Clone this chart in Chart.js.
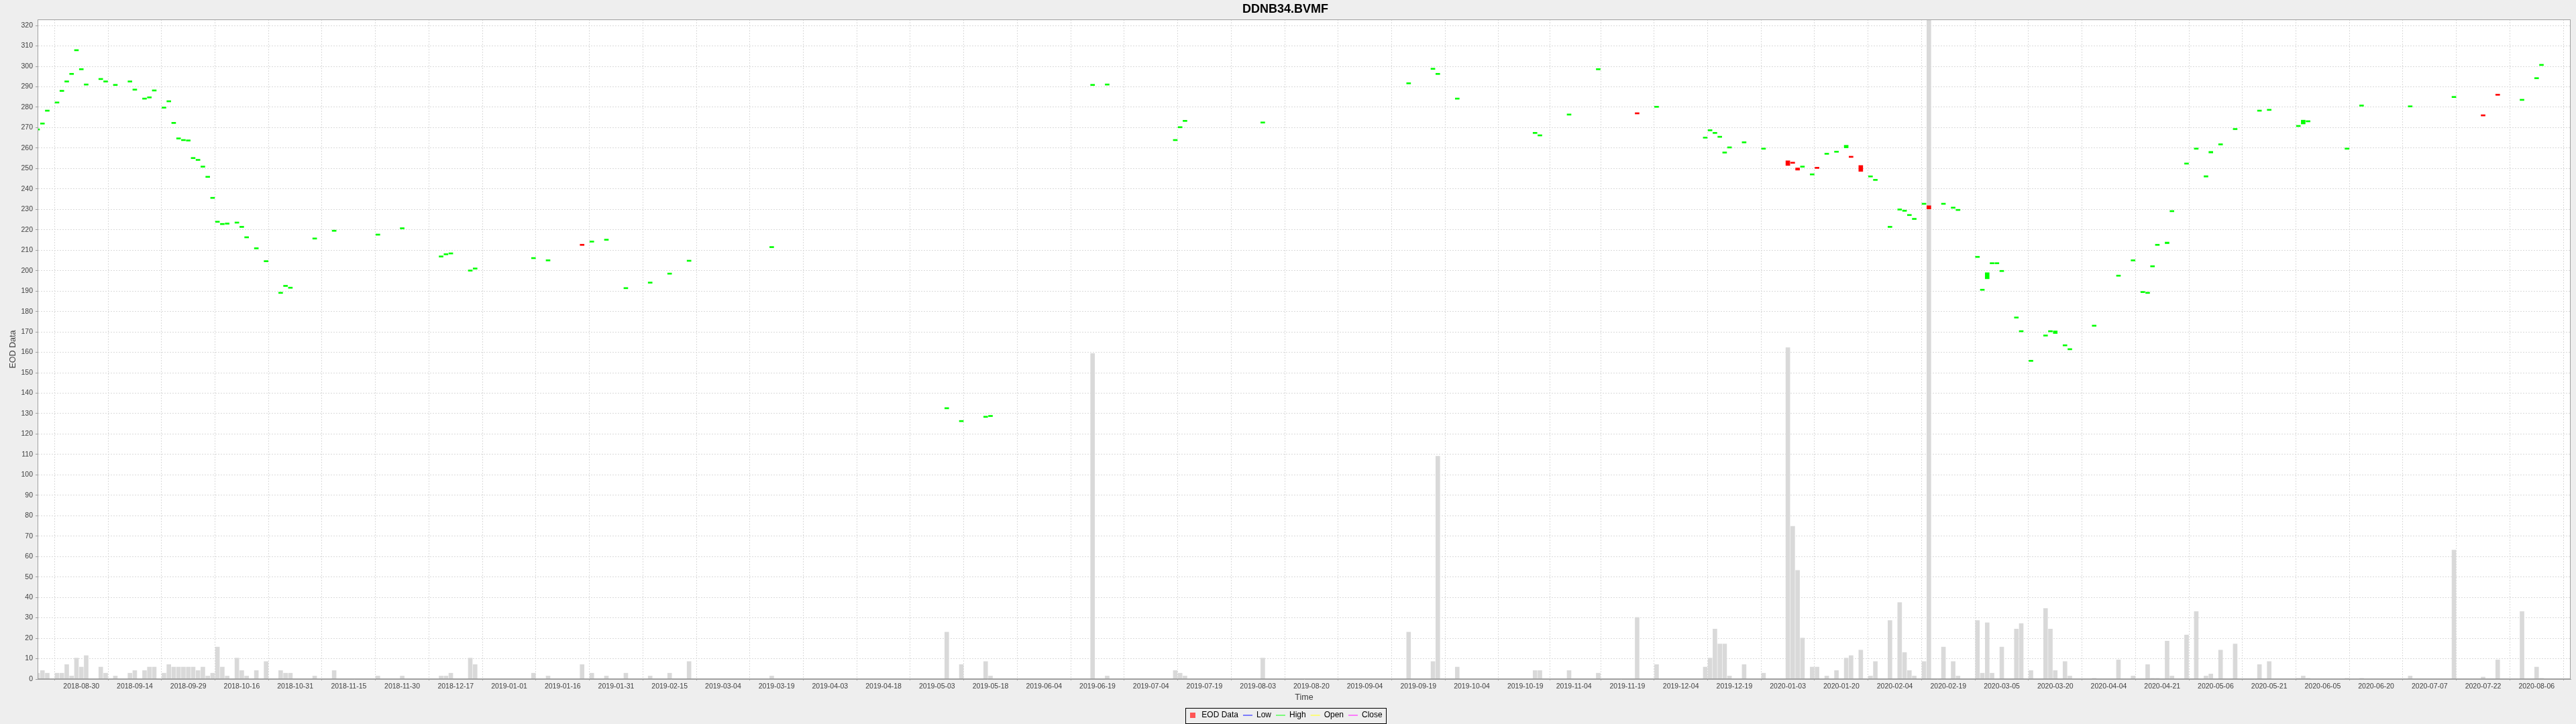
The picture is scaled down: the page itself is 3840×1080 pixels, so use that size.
<!DOCTYPE html>
<html>
<head>
<meta charset="utf-8">
<title>DDNB34.BVMF</title>
<script src="https://cdn.jsdelivr.net/npm/chart.js@4.4.1/dist/chart.umd.min.js"></script>
<style>
  html, body { margin: 0; padding: 0; background: #eeeeee; }
  #wrap { width: 3840px; height: 1080px; }
</style>
</head>
<body>
<div id="wrap"><canvas id="chart" width="3840" height="1080"></canvas></div>
<script>
// trading days (one candle + one volume bar each)
const dates = [
  '2018-08-17','2018-08-20','2018-08-21','2018-08-23','2018-08-24','2018-08-27','2018-08-28','2018-08-29','2018-08-30','2018-08-31',
  '2018-09-05','2018-09-06','2018-09-10','2018-09-13','2018-09-14','2018-09-18','2018-09-19','2018-09-20','2018-09-24','2018-09-25',
  '2018-09-26','2018-09-27','2018-09-28','2018-10-01','2018-10-02','2018-10-03','2018-10-04','2018-10-05','2018-10-08','2018-10-09',
  '2018-10-10','2018-10-11','2018-10-15','2018-10-16','2018-10-17','2018-10-19','2018-10-23','2018-10-26','2018-10-29','2018-10-30',
  '2018-11-06','2018-11-12','2018-11-23','2018-11-30','2018-12-12','2018-12-13','2018-12-14','2018-12-20','2018-12-21','2019-01-08',
  '2019-01-11','2019-01-22','2019-01-24','2019-01-29','2019-02-04','2019-02-11','2019-02-15','2019-02-21','2019-03-18','2019-05-07',
  '2019-05-10','2019-05-17','2019-05-20','2019-06-18','2019-06-21','2019-07-11','2019-07-12','2019-07-15','2019-08-06','2019-09-17',
  '2019-09-24','2019-09-25','2019-10-01','2019-10-23','2019-10-24','2019-11-01','2019-11-11','2019-11-21','2019-11-27','2019-12-11',
  '2019-12-12','2019-12-13','2019-12-16','2019-12-17','2019-12-18','2019-12-23','2019-12-27','2020-01-03','2020-01-06','2020-01-07',
  '2020-01-08','2020-01-10','2020-01-13','2020-01-15','2020-01-17','2020-01-21','2020-01-22','2020-01-24','2020-01-28','2020-01-29',
  '2020-02-03','2020-02-05','2020-02-06','2020-02-07','2020-02-10','2020-02-12','2020-02-13','2020-02-18','2020-02-20','2020-02-21',
  '2020-02-27','2020-02-28','2020-03-02','2020-03-03','2020-03-04','2020-03-05','2020-03-10','2020-03-11','2020-03-13','2020-03-18',
  '2020-03-19','2020-03-20','2020-03-24','2020-03-25','2020-04-01','2020-04-08','2020-04-13','2020-04-15','2020-04-16','2020-04-17',
  '2020-04-20','2020-04-22','2020-04-23','2020-04-28','2020-04-30','2020-05-04','2020-05-05','2020-05-07','2020-05-12','2020-05-19',
  '2020-05-21','2020-05-29','2020-06-01','2020-06-02','2020-06-12','2020-06-17','2020-07-01','2020-07-14','2020-07-22','2020-07-27',
  '2020-08-03','2020-08-06','2020-08-07'
];

const openPx = [
  268.8, 271.7, 278.0, 282.0, 287.7, 292.3, 296.0, 307.6, 298.3, 290.8,
  293.5, 292.3, 290.6, 292.3, 288.3, 283.9, 284.5, 287.9, 279.5, 282.6,
  272.0, 264.4, 263.6, 263.4, 254.8, 253.9, 250.6, 245.6, 235.3, 223.6,
  222.5, 222.7, 223.2, 221.1, 216.0, 210.6, 204.3, 188.8, 192.2, 191.3,
  215.4, 219.2, 217.3, 220.4, 206.6, 207.7, 208.1, 199.7, 200.7, 205.8,
  204.7, 212.9, 213.9, 214.8, 191.1, 193.8, 198.2, 204.5, 211.2, 132.3,
  126.0, 128.1, 128.5, 290.6, 290.8, 263.6, 269.9, 273.0, 272.2, 291.4,
  298.5, 296.0, 283.9, 267.1, 265.9, 276.1, 298.3, 277.3, 279.9, 264.8,
  268.4, 267.1, 265.2, 257.5, 260.0, 262.5, 259.4, 253.8, 253.1, 250.3,
  250.6, 246.8, 250.6, 256.9, 257.9, 260.1, 256.0, 251.5, 245.8, 244.1,
  221.1, 229.6, 229.0, 226.9, 225.0, 232.4, 231.8, 232.4, 230.5, 229.4,
  206.4, 190.3, 196.0, 203.3, 203.3, 199.5, 176.7, 170.0, 155.5, 167.9,
  170.0, 169.2, 163.1, 161.2, 172.7, 197.2, 204.7, 189.2, 188.8, 201.8,
  212.3, 213.2, 228.8, 252.1, 259.4, 245.8, 257.6, 261.5, 269.0, 278.0,
  278.4, 270.5, 271.8, 272.8, 259.4, 280.5, 280.1, 284.7, 276.3, 286.4,
  283.3, 293.9, 300.4
];

const closePx = [
  269.4, 272.3, 278.6, 282.6, 288.3, 292.9, 296.6, 308.2, 298.9, 291.4,
  294.1, 292.9, 291.2, 292.9, 288.9, 284.5, 285.1, 288.5, 280.1, 283.2,
  272.6, 265.0, 264.2, 264.0, 255.4, 254.5, 251.2, 246.2, 235.9, 224.2,
  223.1, 223.3, 223.8, 221.7, 216.6, 211.2, 204.9, 189.4, 192.8, 191.9,
  216.0, 219.8, 217.9, 221.0, 207.2, 208.3, 208.7, 200.3, 201.3, 206.4,
  205.3, 212.3, 214.5, 215.4, 191.7, 194.4, 198.8, 205.1, 211.8, 132.9,
  126.6, 128.7, 129.1, 291.2, 291.4, 264.2, 270.5, 273.6, 272.8, 292.0,
  299.1, 296.6, 284.5, 267.7, 266.5, 276.7, 298.9, 276.7, 280.5, 265.4,
  269.0, 267.7, 265.8, 258.1, 260.6, 263.1, 260.0, 251.5, 252.5, 249.2,
  251.2, 247.4, 250.0, 257.5, 258.5, 261.4, 255.4, 248.6, 246.4, 244.7,
  221.7, 230.2, 229.6, 227.5, 225.6, 233.0, 230.2, 233.0, 231.1, 230.0,
  207.0, 190.9, 199.0, 203.9, 203.9, 200.1, 177.3, 170.6, 156.1, 168.5,
  170.6, 170.5, 163.7, 161.8, 173.3, 197.8, 205.3, 189.8, 189.4, 202.4,
  212.9, 214.0, 229.4, 252.7, 260.0, 246.5, 258.4, 262.1, 269.6, 278.6,
  279.0, 271.1, 273.7, 273.4, 260.0, 281.1, 280.7, 285.3, 275.7, 285.8,
  283.9, 294.5, 301.0
];

const volume = [
  2.9, 4.2, 2.9, 2.9, 2.9, 7.1, 1.5, 10.3, 5.9, 11.5,
  5.9, 2.9, 1.5, 2.9, 4.2, 4.2, 5.9, 5.9, 2.9, 7.1,
  5.9, 5.9, 5.9, 5.9, 5.9, 4.2, 5.9, 1.5, 2.9, 15.7,
  5.9, 1.5, 10.3, 4.2, 1.5, 4.2, 8.6, 4.2, 2.9, 2.9,
  1.5, 4.2, 1.5, 1.5, 1.5, 1.5, 2.9, 10.3, 7.1, 2.9,
  1.5, 7.1, 2.9, 1.5, 2.9, 1.5, 2.9, 8.6, 1.5, 23.0,
  7.1, 8.6, 1.5, 159.4, 1.5, 4.2, 2.9, 1.5, 10.3, 23.0,
  8.6, 109.1, 5.9, 4.2, 4.2, 4.2, 2.9, 30.2, 7.1, 5.9,
  10.3, 24.5, 17.2, 17.2, 1.5, 7.1, 2.9, 162.3, 74.8, 53.2,
  20.1, 5.9, 5.9, 1.5, 4.2, 10.3, 11.5, 14.2, 1.5, 8.6,
  28.7, 37.5, 13.0, 4.2, 1.5, 8.6, 323.0, 15.7, 8.6, 1.5,
  28.7, 2.9, 27.6, 2.9, 0, 15.7, 24.5, 27.2, 4.2, 34.6,
  24.5, 4.2, 8.6, 1.5, 0.4, 9.4, 1.5, 0, 7.1, 0.4,
  0.4, 18.6, 1.5, 21.6, 33.1, 1.5, 2.5, 14.2, 17.2, 7.1,
  8.6, 0.4, 1.5, 0.4, 0.4, 0.4, 1.5, 63.2, 1.0, 9.4,
  33.1, 5.9, 0.4
];

const tickLabels = [
  '2018-08-30','2018-09-14','2018-09-29','2018-10-16','2018-10-31','2018-11-15','2018-11-30','2018-12-17',
  '2019-01-01','2019-01-16','2019-01-31','2019-02-15','2019-03-04','2019-03-19','2019-04-03','2019-04-18',
  '2019-05-03','2019-05-18','2019-06-04','2019-06-19','2019-07-04','2019-07-19','2019-08-03','2019-08-20',
  '2019-09-04','2019-09-19','2019-10-04','2019-10-19','2019-11-04','2019-11-19','2019-12-04','2019-12-19',
  '2020-01-03','2020-01-20','2020-02-04','2020-02-19','2020-03-05','2020-03-20','2020-04-04','2020-04-21',
  '2020-05-06','2020-05-21','2020-06-05','2020-06-20','2020-07-07','2020-07-22','2020-08-06'
];

// weekend-free time axis: a date becomes the count of weekdays since 2018-08-30
const MONDAY0 = Date.UTC(2018, 7, 27);
function tradingIndex(s) {
  const p = s.split('-').map(Number);
  const days = Math.round((Date.UTC(p[0], p[1] - 1, p[2]) - MONDAY0) / 86400000);
  const w = Math.floor(days / 7);
  return w * 5 + Math.min(days - w * 7, 5) - 3;
}

const UP = '#00ff00', DOWN = '#ff0000';
const FONT = "'Liberation Sans', Arial, sans-serif";
Chart.defaults.font.family = FONT;

const candles = dates.map((d, i) => ({ x: tradingIndex(d), y: [openPx[i], closePx[i]] }));
const volBars = dates.map((d, i) => ({ x: tradingIndex(d), y: volume[i] }));

// small red square for the "EOD Data" legend entry
const eodSwatch = document.createElement('canvas');
eodSwatch.width = 8; eodSwatch.height = 8;
(function () {
  const c = eodSwatch.getContext('2d');
  c.fillStyle = '#ff5555';
  c.fillRect(0, 0, 8, 8);
})();

const backdrop = {
  id: 'backdrop',
  beforeDraw(chart) {
    const { ctx, chartArea: a } = chart;
    ctx.save();
    ctx.fillStyle = '#eeeeee';
    ctx.fillRect(0, 0, chart.width, chart.height);
    ctx.fillStyle = '#ffffff';
    ctx.fillRect(a.left, a.top, a.right - a.left, a.bottom - a.top);
    ctx.restore();
  },
  afterLayout(chart) {
    // push the legend row down a little, like the original
    chart.legend.top += 3;
    chart.legend.bottom += 3;
  },
  afterDraw(chart) {
    const { ctx, chartArea: a } = chart;
    ctx.save();
    ctx.strokeStyle = '#a0a0a0';
    ctx.lineWidth = 1;
    ctx.strokeRect(a.left + 0.5, a.top + 0.5, a.right - a.left - 1, a.bottom - a.top - 1);
    const hb = chart.legend.legendHitBoxes;
    if (hb && hb.length) {
      const last = hb[hb.length - 1];
      const l = Math.round(hb[0].left - 4) + 0.5;
      const r = Math.round(last.left + last.width + 5) + 0.5;
      const t = Math.round(hb[0].top - 5) + 0.5;
      const b = Math.round(hb[0].top + hb[0].height + 6) + 0.5;
      ctx.strokeStyle = '#000000';
      ctx.strokeRect(l, t, r - l, b - t);
    }
    ctx.restore();
  }
};

new Chart(document.getElementById('chart'), {
  type: 'bar',
  data: {
    datasets: [
      {
        label: 'EOD Data',
        data: candles,
        grouped: false,
        barThickness: 6,
        minBarLength: 2,
        borderWidth: 0,
        backgroundColor: ctx => (ctx.raw && ctx.raw.y[1] < ctx.raw.y[0]) ? DOWN : UP,
        order: 1
      },
      {
        label: 'Volume',
        data: volBars,
        grouped: false,
        barThickness: 6,
        borderWidth: 0,
        backgroundColor: '#d9d9d9',
        order: 2
      }
    ]
  },
  options: {
    responsive: false,
    devicePixelRatio: 1,
    animation: false,
    layout: { padding: { left: 0, right: 8, top: 0, bottom: 0 } },
    plugins: {
      title: {
        display: true,
        text: 'DDNB34.BVMF',
        color: '#000000',
        font: { size: 18, weight: 'bold', family: FONT },
        padding: { top: 3, bottom: 4.4 }
      },
      legend: {
        display: true,
        position: 'bottom',
        onClick: () => {},
        labels: {
          usePointStyle: true,
          pointStyleWidth: 14,
          boxHeight: 12,
          padding: 7,
          color: '#000000',
          font: { size: 12, family: FONT },
          generateLabels: () => [
            { text: 'EOD Data', pointStyle: eodSwatch, fillStyle: '#ff5555', strokeStyle: '#ff5555', lineWidth: 0 },
            { text: 'Low', pointStyle: 'line', fillStyle: '#5555ff', strokeStyle: '#5555ff', lineWidth: 1.5 },
            { text: 'High', pointStyle: 'line', fillStyle: '#55ff55', strokeStyle: '#55ff55', lineWidth: 1.5 },
            { text: 'Open', pointStyle: 'line', fillStyle: '#ffff55', strokeStyle: '#ffff55', lineWidth: 1.5 },
            { text: 'Close', pointStyle: 'line', fillStyle: '#ff55ff', strokeStyle: '#ff55ff', lineWidth: 1.5 }
          ]
        }
      },
      tooltip: { enabled: false }
    },
    scales: {
      x: {
        type: 'linear',
        min: -9,
        max: 512,
        offset: false,
        afterBuildTicks: s => { s.ticks = tickLabels.map(t => ({ value: tradingIndex(t) })); },
        afterFit: s => { s.height = 38; },
        ticks: {
          autoSkip: false,
          maxRotation: 0,
          minRotation: 0,
          padding: 3,
          color: '#404040',
          font: { size: 10.5 },
          callback: (v, i) => tickLabels[i]
        },
        grid: { color: '#dadada', lineWidth: 1, tickLength: 2, tickColor: '#a0a0a0' },
        border: { display: true, color: '#a0a0a0', dash: [2, 2] },
        title: {
          display: true,
          text: 'Time',
          color: '#404040',
          font: { size: 12.5 },
          padding: { top: 0, bottom: 2.5 }
        }
      },
      y: {
        type: 'linear',
        min: 0,
        max: 323,
        afterFit: s => { s.width = 56; },
        ticks: {
          stepSize: 10,
          includeBounds: false,
          padding: 4,
          color: '#404040',
          font: { size: 10.5 }
        },
        grid: { color: '#dadada', lineWidth: 1, tickLength: 3, tickColor: '#a0a0a0' },
        border: { display: true, color: '#a0a0a0', dash: [2, 2] },
        title: {
          display: true,
          text: 'EOD Data',
          color: '#404040',
          font: { size: 12.5 },
          padding: { top: 12.5, bottom: 0 }
        }
      }
    }
  },
  plugins: [backdrop]
});
</script>
</body>
</html>
